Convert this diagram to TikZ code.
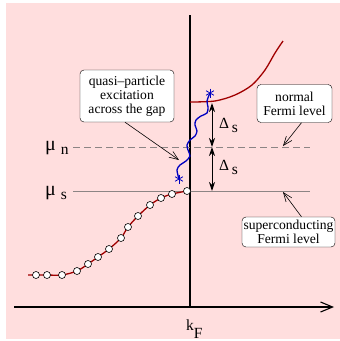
\documentclass[tikz,border=0pt]{standalone}
\usepackage{fontspec}
\setmainfont{Liberation Serif}
\usepackage{tikz}
\usetikzlibrary{positioning,arrows.meta}
\definecolor{bgpink}{HTML}{FFDEDE}
\definecolor{bandred}{HTML}{A00000}
\definecolor{wigglecol}{HTML}{0000C0}
\definecolor{levelgray}{HTML}{8C8484}
\tikzset{
  note/.style={draw, rounded corners=4pt, fill=white, align=center, inner sep=1.5pt, font=\fontsize{13.6}{13.8}\selectfont},
  pointer/.style={-{Straight Barb[length=9pt,width=7pt]}, semithick},
  axis/.style={line width=1.1pt},
  level/.style={levelgray, line width=0.9pt},
  gap/.style={{Stealth[length=9pt,width=6pt]}-{Stealth[length=9pt,width=6pt]}, line width=1pt},
  band/.style={bandred, line width=1.3pt},
  sym/.style={font=\fontsize{15.5}{15.5}\selectfont, inner sep=0pt},
  dot/.style={draw, circle, fill=white, inner sep=0pt, minimum size=7pt, line width=0.6pt}
}

\begin{document}
\begin{tikzpicture}[x=1pt, y=-1pt]
  \useasboundingbox (0,0) rectangle (340,341);
  \fill[bgpink] (6,3) rectangle (340,339);

  % axes
  \coordinate (xstart) at (14,307);
  \coordinate (xend) at (334,307);
  \coordinate (ytop) at (190,15);
  \coordinate (origin) at (190,307);
  \draw[axis] (ytop) -- (origin);
  \draw[axis, -{Straight Barb[length=12pt,width=10pt]}] (xstart) -- (xend);
  \node[sym, anchor=base west] (kf) at (186,330) {k\raisebox{-8pt}{F}};

  % chemical potentials
  \coordinate (mun0) at (73,147);
  \coordinate (mun1) at (310,147);
  \coordinate (mus0) at (73,191);
  \coordinate (mus1) at (310,191);
  \draw[level, dash pattern=on 7pt off 4pt] (mun0) -- (mun1);
  \draw[level] (mus0) -- (mus1);
  \node[sym, anchor=base west] (mun) at (45,150) {{\fontsize{20}{20}\selectfont μ}\hspace{5pt}\raisebox{-4pt}{n}};
  \node[sym, anchor=base west] (mus) at (45,195) {{\fontsize{20}{20}\selectfont μ}\hspace{5pt}\raisebox{-4pt}{s}};

  % bands
  \draw[band] plot[smooth] coordinates {(190,102) (215,101) (235,95) (252,85) (265,70) (275,53) (283,41)};
  \draw[band] plot[smooth] coordinates {(28,275) (36,275) (47,275) (62,275) (77,271) (88,264) (98,257) (109,249) (121,238) (128,227) (138,216) (150,205) (161,198) (172,194) (187,191)};
  \foreach \p [count=\i] in {(36,275),(47,275),(62,275),(77,271),(88,264),(98,257),(109,249),(121,238),(128,227),(138,216),(150,205),(161,198),(172,194),(187,191)}
    \node[dot] (occ\i) at \p {};

  % gap
  \coordinate (gaptop) at (212,103);
  \coordinate (gapmid) at (212,147);
  \coordinate (gapbot) at (212,191);
  \draw[gap] (gaptop) -- (gapmid);
  \draw[gap] (gapmid) -- (gapbot);
  \node[sym, anchor=base west] (dup) at (219,128) {Δ\,\raisebox{-4pt}{s}};
  \node[sym, anchor=base west] (ddown) at (219,170) {Δ\,\raisebox{-4pt}{s}};

  % excitation
  \coordinate (qlow) at (179,179);
  \coordinate (qhigh) at (210,93);
  \draw[wigglecol, line width=1.3pt] plot[smooth] coordinates {(179,179) (177,170) (180,165) (186,161) (190,156) (188,150) (187,145) (190,140) (195,136) (197,131) (195,125) (196,120) (201,116) (207,113) (208,107) (207,101) (210,93)};
  \foreach \q in {qlow,qhigh}
    \foreach \a in {90,30,150}
      \draw[wigglecol, line width=0.8pt] ([shift={(\a:4.5pt)}]\q) -- ([shift={(\a+180:4.5pt)}]\q);

  % notes
  \node[note, minimum width=94pt, minimum height=52pt] (qp) at (127,96) {quasi–particle\\excitation\\across the gap};
  \node[note, minimum width=75pt, minimum height=38pt] (nf) at (294.5,103.5) {normal\\Fermi level};
  \node[note, minimum width=93pt, minimum height=30pt] (sf) at (288.5,232) {superconducting\\Fermi level};
  \coordinate (qptip) at (179,160);
  \coordinate (nftip) at (283,146);
  \coordinate (sftip) at (283,192);
  \draw[pointer] ([xshift=-2pt]qp.south) -- (qptip);
  \draw[pointer] ([xshift=7pt]nf.south) -- (nftip);
  \draw[pointer] ([xshift=13pt]sf.north) -- (sftip);
\end{tikzpicture}
\end{document}
